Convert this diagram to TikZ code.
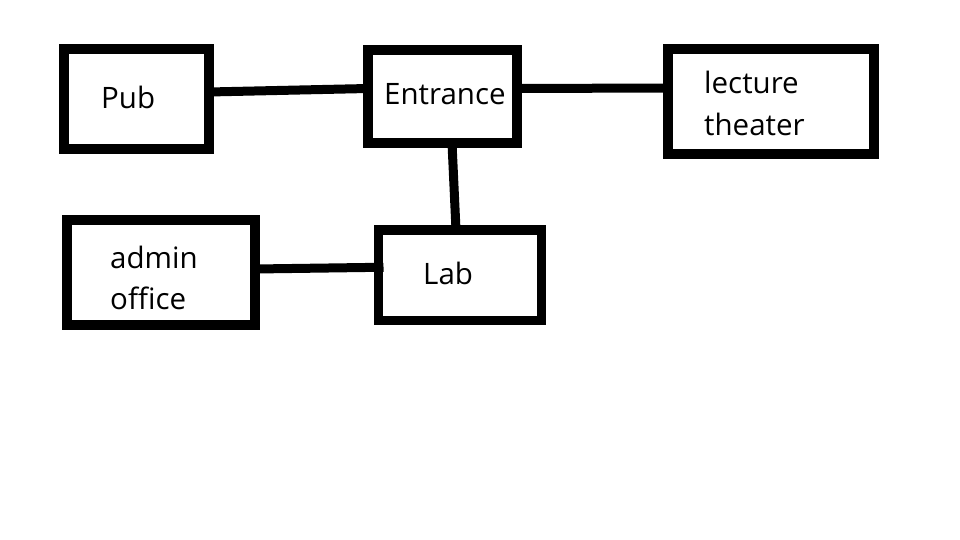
\documentclass[tikz,border=0pt]{standalone}
\usepackage{fontspec}
\setmainfont{Open Sans}
\begin{document}
\begin{tikzpicture}[x=1pt,y=-1pt,
  box/.style={draw=black,line width=9.5pt,inner sep=0pt,outer sep=0pt,rectangle},
  conn/.style={draw=black,line width=9pt},
  lbl/.style={anchor=base west,inner sep=0pt,font=\fontsize{29.5}{34}\selectfont}]
\useasboundingbox[fill=white] (0,0) rectangle (960,540);
% boxes (centre-line dimensions)
\node[box,minimum width=145pt,minimum height=100pt] (pub) at (136.5,99) {};
\node[box,minimum width=149pt,minimum height=93pt] (ent) at (442.5,96.5) {};
\node[box,minimum width=206pt,minimum height=105pt] (lec) at (771,101.5) {};
\node[box,minimum width=188pt,minimum height=105pt] (adm) at (161,272.5) {};
\node[box,minimum width=163pt,minimum height=90.5pt] (lab) at (460,275.25) {};
% texts
\node[lbl] (tpub) at (101,109) {Pub};
\node[lbl] (tent) at (384,105) {Entrance};
\node[lbl] (tlec1) at (704,94) {lecture};
\node[lbl] (tlec2) at (704,136) {theater};
\node[lbl] (tadm1) at (110,268) {admin};
\node[lbl] (tadm2) at (110,309) {office};
\node[lbl] (tlab) at (423,284) {Lab};
% connectors
\draw[conn] ([yshift=7pt]pub.east) -- ([yshift=8pt]ent.west);
\draw[conn] ([yshift=8pt]ent.east) -- ([yshift=13.5pt]lec.west);
\draw[conn] ([xshift=9.5pt]ent.south) -- ([xshift=-4pt]lab.north);
\draw[conn] ([yshift=3.5pt]adm.east) -- ([xshift=5pt,yshift=8pt]lab.west);
\end{tikzpicture}
\end{document}
